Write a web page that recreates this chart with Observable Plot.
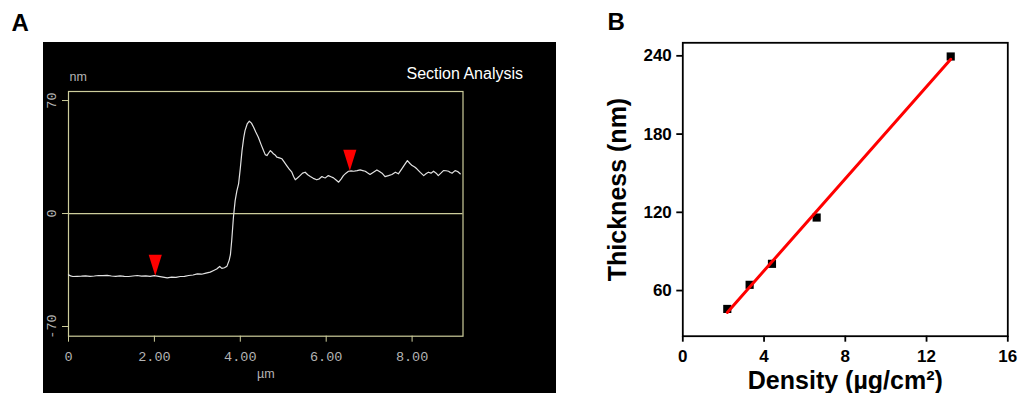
<!DOCTYPE html>
<html>
<head>
<meta charset="utf-8">
<script src="https://cdn.jsdelivr.net/npm/d3@7"></script>
<script src="https://cdn.jsdelivr.net/npm/@observablehq/plot@0.6"></script>
<style>
  html, body { margin: 0; padding: 0; background: #ffffff; }
  #page { position: relative; width: 1019px; height: 393px; overflow: hidden; }
  .panel-letter { position: absolute; font-family: "Liberation Sans", Arial, sans-serif; font-weight: bold; font-size: 24px; line-height: 24px; color: #000; }
  #chartA { position: absolute; left: 43px; top: 42px; }
  #chartB { position: absolute; left: 590px; top: 0px; }
</style>
</head>
<body>
<div id="page">
  <div id="chartA"></div>
  <div id="chartB"></div>
  <div class="panel-letter" style="left:11.5px; top:11px;">A</div>
  <div class="panel-letter" style="left:607.5px; top:10px;">B</div>
</div>
<script>
// ---------- Panel A: section profile ----------
const profileX = [0.00,0.05,0.10,0.20,0.30,0.40,0.50,0.60,0.70,0.80,0.90,1.00,1.10,1.20,1.30,1.40,1.50,1.60,1.70,1.80,1.90,2.00,2.10,2.20,2.30,2.40,2.50,2.60,2.70,2.80,2.90,3.00,3.10,3.20,3.30,3.38,3.45,3.52,3.57,3.63,3.69,3.74,3.77,3.80,3.84,3.88,3.92,3.96,4.00,4.04,4.08,4.11,4.16,4.21,4.26,4.31,4.36,4.42,4.48,4.54,4.58,4.62,4.66,4.70,4.74,4.77,4.81,4.85,4.91,4.97,5.02,5.08,5.14,5.20,5.24,5.28,5.33,5.39,5.45,5.51,5.57,5.63,5.70,5.78,5.84,5.90,5.94,5.98,6.05,6.11,6.17,6.23,6.29,6.35,6.40,6.46,6.52,6.58,6.64,6.72,6.79,6.85,6.91,6.96,7.02,7.10,7.18,7.24,7.30,7.37,7.45,7.53,7.61,7.68,7.76,7.83,7.89,7.95,8.00,8.06,8.11,8.19,8.27,8.33,8.38,8.44,8.50,8.56,8.61,8.67,8.73,8.79,8.85,8.89,8.93,9.00,9.06,9.12];
const profileNm = [-38.0,-38.6,-39.0,-38.9,-38.8,-38.6,-38.9,-38.7,-38.4,-38.5,-38.3,-38.7,-38.9,-38.6,-38.9,-39.0,-38.7,-38.4,-38.8,-38.6,-38.9,-38.5,-38.9,-39.4,-39.9,-39.4,-39.6,-39.0,-38.9,-38.4,-38.1,-37.4,-37.6,-36.9,-36.3,-35.3,-34.4,-32.8,-34.0,-33.6,-32.6,-29.0,-25.5,-16.7,-2.3,8.0,14.0,18.4,28.0,39.0,47.0,51.4,55.5,57.2,56.0,53.5,50.5,47.3,43.0,39.0,36.5,35.9,37.5,39.0,38.0,37.0,36.3,34.9,34.5,33.9,32.0,29.7,27.5,25.6,23.0,20.9,22.0,23.5,25.0,25.6,24.0,22.9,21.8,20.9,21.5,22.9,22.3,22.1,23.5,22.8,22.1,20.8,19.4,21.5,23.5,25.0,26.2,26.4,26.2,26.6,27.0,26.6,26.2,25.2,24.2,25.6,27.0,26.0,25.0,22.9,23.5,24.2,25.6,24.6,27.7,30.5,32.8,31.0,29.7,28.8,27.7,25.5,23.5,24.8,25.6,25.0,26.2,25.0,23.5,25.0,26.6,26.5,26.2,25.4,25.0,26.6,26.0,24.6];
const markerX = [2.02, 6.55];
const markerNm = [-38.5, 26.5];
const xTicksA = [0, 2, 4, 6, 8];
const yTicksA = [-70, 0, 70];

// ---------- Panel B: thickness vs density ----------
const density = [2.19, 3.29, 4.39, 6.59, 13.19];
const thickness = [45.9, 64.4, 80.5, 116.0, 239.5];
const xTicksB = [0, 4, 8, 12, 16];
const yTicksB = [60, 120, 180, 240];

const profile = profileX.map((x, i) => ({x, y: profileNm[i]}));
const markers = markerX.map((x, i) => ({x, y: markerNm[i]}));
const points = density.map((x, i) => ({x, y: thickness[i]}));

const frameColor = "#cdcd9c";
const labelGrey = "#b4b4b4";
const sans = "'Liberation Sans', Arial, sans-serif";

// downward-pointing marker whose tip sits on the data point
const downTriangle = {
  draw(context) {
    context.moveTo(0, 0);
    context.lineTo(-6.6, -21);
    context.lineTo(6.6, -21);
    context.closePath();
  }
};

const chartA = Plot.plot({
  width: 513,
  height: 351,
  marginLeft: 25,
  marginRight: 93.5,
  marginTop: 49,
  marginBottom: 57.3,
  style: {background: "#000000", color: labelGrey, fontFamily: "'Liberation Mono', 'DejaVu Sans Mono', monospace", fontSize: "13.5px", overflow: "visible"},
  x: {domain: [0, 9.185]},
  y: {domain: [-76, 75.6]},
  marks: [
    Plot.frame({stroke: frameColor, strokeWidth: 1.2}),
    Plot.ruleY([0], {stroke: frameColor, strokeWidth: 1.2}),
    Plot.axisX({ticks: xTicksA, tickFormat: d => d === 0 ? "0" : d.toFixed(2), tickSize: 6, tickPadding: 9, stroke: frameColor, fill: labelGrey, label: null}),
    Plot.axisY({ticks: yTicksA, tickSize: 6, tickFormat: () => "", stroke: frameColor, label: null}),
    Plot.text(yTicksA, {y: d => d, text: d => String(d), frameAnchor: "left", textAnchor: "middle", lineAnchor: "middle", dx: -17, rotate: -90, fill: labelGrey}),
    Plot.line(profile, {x: "x", y: "y", stroke: "#e2e2e2", strokeWidth: 1.2}),
    Plot.dot(markers, {x: "x", y: "y", symbol: downTriangle, fill: "#ff0000", stroke: "none", r: 5}),
    Plot.text(["nm"], {frameAnchor: "top-left", textAnchor: "start", lineAnchor: "middle", dx: 1, dy: -15, fill: labelGrey, fontFamily: sans, fontSize: 12.5}),
    Plot.text(["µm"], {frameAnchor: "bottom", lineAnchor: "middle", dy: 38, fill: labelGrey, fontFamily: sans, fontSize: 12.5}),
    Plot.text(["Section Analysis"], {frameAnchor: "top-right", textAnchor: "end", lineAnchor: "middle", dx: 60, dy: -18, fill: "#ffffff", fontFamily: sans, fontSize: 16})
  ]
});
document.getElementById("chartA").appendChild(chartA);

const chartB = Plot.plot({
  width: 429,
  height: 393,
  marginLeft: 92.3,
  marginRight: 11.7,
  marginTop: 42.3,
  marginBottom: 57.3,
  style: {background: "transparent", color: "#000000", fontFamily: sans, fontWeight: "bold", fontSize: "17px", overflow: "visible"},
  x: {domain: [0, 16]},
  y: {domain: [25, 250]},
  marks: [
    Plot.axisX({ticks: xTicksB, tickSize: 6, tickPadding: 8, strokeWidth: 1.8, label: null}),
    Plot.axisY({ticks: yTicksB, tickSize: 6, tickPadding: 5, strokeWidth: 1.8, label: null}),
    Plot.frame({stroke: "#000000", strokeWidth: 1.8}),
    Plot.dot(points, {x: "x", y: "y", symbol: "square", fill: "#000000", r: 4.6}),
    Plot.linearRegressionY(points, {x: "x", y: "y", ci: 0, stroke: "#ff0000", strokeWidth: 3}),
    Plot.text(["Density (µg/cm²)"], {frameAnchor: "bottom", textAnchor: "middle", lineAnchor: "middle", dy: 45, fontSize: 25, fontWeight: "bold"}),
    Plot.text(["Thickness (nm)"], {frameAnchor: "left", textAnchor: "middle", lineAnchor: "middle", dx: -65, rotate: -90, fontSize: 25, fontWeight: "bold"})
  ]
});
document.getElementById("chartB").appendChild(chartB);
</script>
</body>
</html>
